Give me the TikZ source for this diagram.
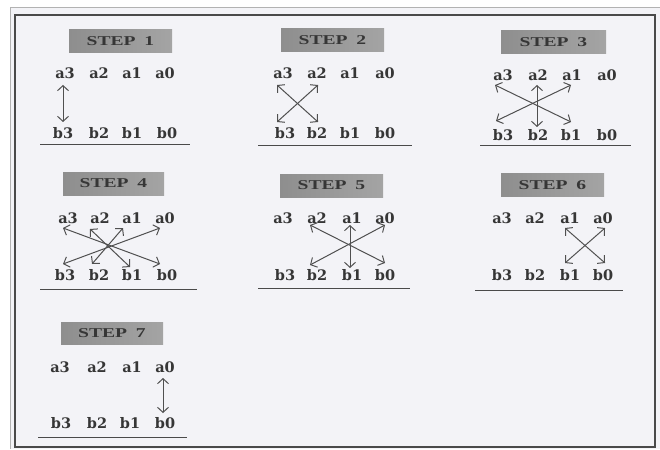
\documentclass[tikz,border=0pt]{standalone}
\usepackage{fontspec}
\setmainfont{Liberation Serif}
\newfontfamily\lblfont{DejaVu Serif}
\usetikzlibrary{arrows.meta,calc}
\definecolor{bg}{HTML}{F3F3F7}
\definecolor{txt}{HTML}{363636}
\definecolor{arr}{HTML}{505050}
\definecolor{ln}{HTML}{4A4A4A}
\definecolor{boxL}{HTML}{8E8E8E}
\definecolor{boxM}{HTML}{B8B8B8}
\definecolor{boxR}{HTML}{A4A4A4}
\tikzset{
  lbl/.style={inner sep=0pt, text=txt, font=\lblfont\bfseries\fontsize{14.5}{16}\selectfont},
  stepbox/.style={minimum width=103pt, minimum height=23pt, inner sep=0pt,
    left color=boxL, middle color=boxM, right color=boxR, text=txt,
    font=\bfseries\fontsize{13.5}{15}\selectfont},
  dbl/.style={draw=arr, line width=1pt,
    {Straight Barb[length=5pt,width=11pt]}-{Straight Barb[length=5pt,width=11pt]}},
  uline/.style={draw=ln, line width=1pt}
}
\newcommand\steptxt[1]{\scalebox{1.45}[1]{STEP\hspace{0.45em}#1}}
\begin{document}
\begin{tikzpicture}[x=1pt,y=-1pt]
\useasboundingbox (0,0) rectangle (660,449);
\fill[white] (0,0) rectangle (660,449);
\fill[bg] (10,7) rectangle (660,449);
\draw[gray!60, line width=0.8pt] (10,449) -- (10,7) -- (660,7);
\draw[ln, line width=1.4pt] (15,15) rectangle (655,447);

% STEP boxes
\node[stepbox] (s1) at (120.5,41.5) {\steptxt{1}};
\node[stepbox] (s2) at (332.5,40) {\steptxt{2}};
\node[stepbox, minimum width=105pt] (s3) at (553.5,42.5) {\steptxt{3}};
\node[stepbox, minimum width=101pt] (s4) at (113.5,183.5) {\steptxt{4}};
\node[stepbox] (s5) at (331.5,185.5) {\steptxt{5}};
\node[stepbox] (s6) at (552.5,185) {\steptxt{6}};
\node[stepbox, minimum width=102pt, minimum height=22pt] (s7) at (112,333) {\steptxt{7}};

% Panel 1
\foreach \n/\x in {3/65,2/99,1/132,0/165} \node[lbl] (p1a\n) at (\x,73) {a\n};
\foreach \n/\x in {3/63,2/99,1/132,0/167} \node[lbl] (p1b\n) at (\x,133) {b\n};
\draw[dbl] ($(p1a3)+(-2,12)$) -- ($(p1b3)+(0,-11)$);
\draw[uline] (40,145) -- (190,145);

% Panel 2
\foreach \n/\x in {3/283,2/317,1/350,0/385} \node[lbl] (p2a\n) at (\x,73) {a\n};
\foreach \n/\x in {3/285,2/317,1/350,0/385} \node[lbl] (p2b\n) at (\x,133) {b\n};
\draw[dbl] ($(p2a3)+(-6,12)$) -- ($(p2b2)+(1,-11)$);
\draw[dbl] ($(p2a2)+(1,12)$) -- ($(p2b3)+(-8,-11)$);
\draw[uline] (258,146) -- (412,146);

% Panel 3
\foreach \n/\x in {3/503,2/538,1/572,0/607} \node[lbl] (p3a\n) at (\x,75) {a\n};
\foreach \n/\x in {3/503,2/538,1/571,0/607} \node[lbl] (p3b\n) at (\x,135) {b\n};
\draw[dbl] ($(p3a3)+(-8,10)$) -- ($(p3b1)+(0,-13)$);
\draw[dbl] ($(p3a1)+(-1,10)$) -- ($(p3b3)+(-7,-14)$);
\draw[dbl] ($(p3a2)+(-1,10)$) -- ($(p3b2)+(-1,-8)$);
\draw[uline] (480,146) -- (631,146);

% Panel 4
\foreach \n/\x in {3/68,2/100,1/132,0/165} \node[lbl] (p4a\n) at (\x,218) {a\n};
\foreach \n/\x in {3/65,2/99,1/132,0/167} \node[lbl] (p4b\n) at (\x,275) {b\n};
\draw[dbl] ($(p4a3)+(-5,10)$) -- ($(p4b0)+(-7,-11)$);
\draw[dbl] ($(p4a0)+(-5,10)$) -- ($(p4b3)+(-2,-11)$);
\draw[dbl] ($(p4a2)+(-10,11)$) -- ($(p4b1)+(-2,-8)$);
\draw[dbl] ($(p4a1)+(-9,10)$) -- ($(p4b2)+(-7,-11)$);
\draw[uline] (40,289) -- (197,289);

% Panel 5
\foreach \n/\x in {3/283,2/317,1/352,0/385} \node[lbl] (p5a\n) at (\x,218) {a\n};
\foreach \n/\x in {3/285,2/317,1/352,0/385} \node[lbl] (p5b\n) at (\x,275) {b\n};
\draw[dbl] ($(p5a2)+(-7,7)$) -- ($(p5b0)+(0,-12)$);
\draw[dbl] ($(p5a0)+(0,7)$) -- ($(p5b2)+(-7,-10)$);
\draw[dbl] ($(p5a1)+(-2,7)$) -- ($(p5b1)+(-2,-7)$);
\draw[uline] (258,288) -- (410,288);

% Panel 6
\foreach \n/\x in {3/502,2/535,1/570,0/603} \node[lbl] (p6a\n) at (\x,218) {a\n};
\foreach \n/\x in {3/502,2/535,1/570,0/603} \node[lbl] (p6b\n) at (\x,275) {b\n};
\draw[dbl] ($(p6a1)+(-5,10)$) -- ($(p6b0)+(2,-12)$);
\draw[dbl] ($(p6a0)+(2,10)$) -- ($(p6b1)+(-5,-12)$);
\draw[uline] (475,290) -- (623,290);

% Panel 7
\foreach \n/\x in {3/60,2/97,1/132,0/165} \node[lbl] (p7a\n) at (\x,367) {a\n};
\foreach \n/\x in {3/61,2/97,1/130,0/165} \node[lbl] (p7b\n) at (\x,423) {b\n};
\draw[dbl] ($(p7a0)+(-2,11)$) -- ($(p7b0)+(-2,-10)$);
\draw[uline] (38,437) -- (187,437);
\end{tikzpicture}
\end{document}
